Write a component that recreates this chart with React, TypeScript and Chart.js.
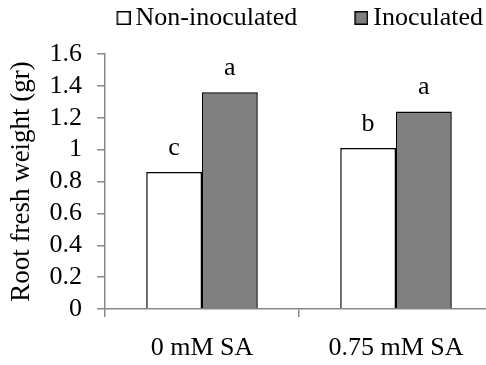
import React, { useEffect, useRef } from 'react';
import { Chart, registerables } from 'chart.js';

Chart.register(...registerables);

const categories = ['0 mM SA', '0.75 mM SA'];
const seriesNames = ['Non-inoculated', 'Inoculated'];
const nonInoculated = [0.86, 1.01];
const inoculated = [1.36, 1.24];
const nonInoculatedLetters = ['c', 'b'];
const inoculatedLetters = ['a', 'a'];
const yTickLabels = ['0', '0.2', '0.4', '0.6', '0.8', '1', '1.2', '1.4', '1.6'];
const yTitle = 'Root fresh weight (gr)';

const FONT = "'Liberation Serif', 'Times New Roman', serif";
const AXIS = '#888888';
const LEGEND_GAP = ' '.repeat(8);

function makeLegendBox(fill: string): HTMLCanvasElement {
  const c = document.createElement('canvas');
  c.width = 17;
  c.height = 14;
  const ctx = c.getContext('2d')!;
  ctx.fillStyle = fill;
  ctx.fillRect(3.75, 0.75, 12.5, 12.5);
  ctx.strokeStyle = '#000';
  ctx.lineWidth = 1.5;
  ctx.strokeRect(3.75, 0.75, 12.5, 12.5);
  return c;
}

const letterPlugin = {
  id: 'barLetters',
  afterDatasetsDraw(chart: any) {
    const ctx = chart.ctx;
    const sets = [nonInoculatedLetters, inoculatedLetters];
    ctx.save();
    ctx.font = `26px ${FONT}`;
    ctx.fillStyle = '#000';
    ctx.textAlign = 'center';
    ctx.textBaseline = 'alphabetic';
    sets.forEach((letters, i) => {
      chart.getDatasetMeta(i).data.forEach((bar: any, j: number) => {
        ctx.fillText(letters[j], bar.x, bar.y - 17);
      });
    });
    ctx.restore();
  },
};

export default function App() {
  const ref = useRef<HTMLCanvasElement>(null);

  useEffect(() => {
    if (!ref.current) return;
    const chart = new Chart(ref.current, {
      type: 'bar',
      data: {
        labels: categories,
        datasets: [
          {
            label: seriesNames[0],
            data: nonInoculated,
            backgroundColor: '#ffffff',
            borderColor: '#000000',
            borderWidth: 1.5,
          },
          {
            label: seriesNames[1],
            data: inoculated,
            backgroundColor: '#808080',
            borderColor: '#000000',
            borderWidth: 1.5,
          },
        ],
      },
      options: {
        animation: false,
        responsive: false,
        devicePixelRatio: 1,
        layout: { padding: { top: -5, left: 0, right: 0, bottom: 0 } },
        datasets: {
          bar: { categoryPercentage: 0.575, barPercentage: 1 },
        },
        plugins: {
          tooltip: { enabled: false },
          legend: {
            display: true,
            position: 'top',
            align: 'end',
            labels: {
              usePointStyle: true,
              pointStyleWidth: 1,
              boxHeight: 13,
              padding: 10,
              color: '#000',
              font: { family: FONT, size: 26 },
              generateLabels: (c: any) => {
                const items = (Chart as any).defaults.plugins.legend.labels.generateLabels(c);
                return items.map((it: any, i: number) => ({
                  ...it,
                  pointStyle: makeLegendBox(it.fillStyle),
                  text: i < items.length - 1 ? it.text + LEGEND_GAP : it.text,
                }));
              },
            },
          },
        },
        scales: {
          x: {
            type: 'category',
            offset: true,
            grid: {
              display: true,
              offset: true,
              drawOnChartArea: false,
              drawTicks: true,
              tickLength: 8,
              color: AXIS,
              lineWidth: 1.5,
            },
            border: { display: true, color: AXIS, width: 1.5 },
            ticks: {
              color: '#000',
              padding: 16,
              maxRotation: 0,
              autoSkip: false,
              font: { family: FONT, size: 26 },
            },
            afterFit: (s: any) => {
              s.height = 56;
            },
          },
          topGap: {
            type: 'linear',
            position: 'top',
            display: true,
            grid: { display: false, drawTicks: false },
            border: { display: false },
            ticks: { display: false },
            afterFit: (s: any) => {
              s.height = 13;
            },
          },
          y: {
            type: 'linear',
            min: 0,
            max: 1.6,
            grid: {
              display: true,
              drawOnChartArea: false,
              drawTicks: true,
              tickLength: 8,
              color: AXIS,
              lineWidth: 1.5,
            },
            border: { display: true, color: AXIS, width: 1.5 },
            ticks: {
              stepSize: 0.2,
              autoSkip: false,
              color: '#000',
              padding: 15,
              font: { family: FONT, size: 26 },
              callback: (_v: any, i: number) => yTickLabels[i],
            },
            title: {
              display: true,
              text: yTitle,
              color: '#000',
              font: { family: FONT, size: 27 },
              padding: { top: 6, bottom: 0 },
            },
            afterFit: (s: any) => {
              s.width = 105;
            },
          },
        },
      },
      plugins: [letterPlugin],
    } as any);
    return () => chart.destroy();
  }, []);

  return (
    <div
      style={{
        position: 'fixed',
        left: 0,
        top: 0,
        width: 486,
        height: 365,
        overflow: 'hidden',
        background: '#fff',
      }}
    >
      <canvas ref={ref} width={493} height={365} style={{ width: 493, height: 365, display: 'block' }} />
    </div>
  );
}
